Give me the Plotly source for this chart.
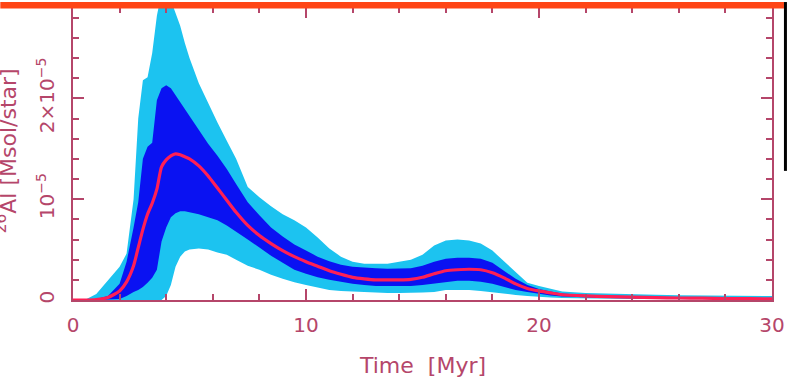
import plotly.graph_objects as go

# Time grid [Myr]
time_myr = [0, 0.5, 1.0, 1.5, 2.0, 2.3, 2.6, 2.8, 3.0, 3.2, 3.4, 3.6, 3.8, 4.0, 4.2,
            4.4, 4.6, 4.8, 5.0, 5.4, 5.8, 6.2, 6.6, 7.0, 7.5, 8.0, 8.5, 9.0, 9.5, 10,
            10.5, 11, 11.5, 12, 12.5, 13, 13.5, 14, 14.5, 15, 15.5, 16, 16.5, 17, 17.5,
            18, 18.5, 19, 19.5, 20, 20.5, 21, 22, 23, 24, 25, 26, 27, 28, 29, 30]

# 26Al mass per star, in units of 1e-5 Msol/star
median_al = [0, 0, 0.005, 0.025, 0.09, 0.18, 0.34, 0.52, 0.70, 0.85, 0.96, 1.10, 1.32, 1.39, 1.43,
             1.45, 1.44, 1.42, 1.40, 1.33, 1.23, 1.11, 0.99, 0.87, 0.74, 0.64, 0.56, 0.49, 0.43, 0.38,
             0.335, 0.29, 0.255, 0.225, 0.21, 0.20, 0.20, 0.20, 0.205, 0.225, 0.26, 0.29, 0.30, 0.305, 0.30,
             0.27, 0.22, 0.16, 0.115, 0.09, 0.07, 0.052, 0.04, 0.033, 0.028, 0.024, 0.02, 0.018, 0.015, 0.013, 0.012]

sigma1_upper = [0, 0, 0.01, 0.04, 0.16, 0.38, 0.72, 0.97, 1.40, 1.52, 1.56, 1.98, 2.10, 2.13, 2.10,
                2.03, 1.96, 1.90, 1.83, 1.68, 1.55, 1.43, 1.30, 1.15, 0.97, 0.84, 0.72, 0.63, 0.55, 0.49,
                0.43, 0.385, 0.35, 0.33, 0.32, 0.315, 0.31, 0.31, 0.315, 0.34, 0.38, 0.41, 0.42, 0.42, 0.41,
                0.37, 0.29, 0.21, 0.15, 0.11, 0.085, 0.065, 0.05, 0.042, 0.036, 0.031, 0.027, 0.024, 0.021, 0.019, 0.018]

sigma1_lower = [0, 0, 0, 0.005, 0.01, 0.04, 0.08, 0.10, 0.13, 0.17, 0.22, 0.30, 0.58, 0.72, 0.82,
                0.86, 0.88, 0.88, 0.87, 0.85, 0.82, 0.79, 0.74, 0.68, 0.60, 0.52, 0.44, 0.37, 0.30, 0.26,
                0.225, 0.20, 0.18, 0.16, 0.15, 0.14, 0.14, 0.14, 0.14, 0.15, 0.165, 0.18, 0.19, 0.19, 0.18,
                0.16, 0.13, 0.10, 0.08, 0.06, 0.045, 0.035, 0.026, 0.021, 0.017, 0.014, 0.012, 0.01, 0.009, 0.008, 0.007]

sigma2_upper = [0, 0, 0.06, 0.20, 0.33, 0.46, 1.00, 1.80, 2.18, 2.21, 2.45, 2.82, 3.05, 3.10, 2.98,
                2.86, 2.72, 2.55, 2.40, 2.15, 1.95, 1.76, 1.58, 1.40, 1.12, 1.02, 0.93, 0.85, 0.79, 0.72,
                0.62, 0.51, 0.43, 0.38, 0.36, 0.36, 0.36, 0.38, 0.40, 0.45, 0.54, 0.59, 0.60, 0.59, 0.56,
                0.49, 0.38, 0.27, 0.17, 0.14, 0.11, 0.085, 0.07, 0.062, 0.056, 0.051, 0.047, 0.044, 0.042, 0.04, 0.04]

sigma2_lower = [0, 0, 0, 0, 0, 0, 0, 0, 0, 0, 0, 0, 0, 0.04, 0.15,
                0.33, 0.43, 0.48, 0.50, 0.51, 0.50, 0.47, 0.45, 0.40, 0.34, 0.30, 0.25, 0.21, 0.175, 0.15,
                0.125, 0.10, 0.09, 0.085, 0.08, 0.07, 0.07, 0.07, 0.07, 0.075, 0.08, 0.10, 0.10, 0.10, 0.09,
                0.075, 0.06, 0.05, 0.04, 0.03, 0.025, 0.02, 0.015, 0.012, 0.01, 0.009, 0.008, 0.007, 0.006, 0.005, 0.005]

UNIT = 1e-5
x_ticks = [0, 10, 20, 30]
y_tick_vals = [0, 1, 2]
y_tick_text = ["0", "10<sup>\u22125</sup>", "2\u00d710<sup>\u22125</sup>"]

LIGHT = "#1cc3f0"
DARK = "#0a12f2"
RED = "#ff1f55"
AXIS = "#b5466a"
FONT = "DejaVu Sans"


def scaled(vals):
    return [v * UNIT for v in vals]


fig = go.Figure()

# 2-sigma band
fig.add_trace(go.Scatter(x=time_myr, y=scaled(sigma2_lower), mode="lines",
                         line=dict(width=0, color=LIGHT), showlegend=False, hoverinfo="skip"))
fig.add_trace(go.Scatter(x=time_myr, y=scaled(sigma2_upper), mode="lines", fill="tonexty",
                         fillcolor=LIGHT, line=dict(width=0, color=LIGHT),
                         showlegend=False, hoverinfo="skip"))
# 1-sigma band
fig.add_trace(go.Scatter(x=time_myr, y=scaled(sigma1_lower), mode="lines",
                         line=dict(width=0, color=DARK), showlegend=False, hoverinfo="skip"))
fig.add_trace(go.Scatter(x=time_myr, y=scaled(sigma1_upper), mode="lines", fill="tonexty",
                         fillcolor=DARK, line=dict(width=0, color=DARK),
                         showlegend=False, hoverinfo="skip"))
# median
fig.add_trace(go.Scatter(x=time_myr, y=scaled(median_al), mode="lines",
                         line=dict(width=3.2, color=RED, shape="spline", smoothing=0.6),
                         showlegend=False))

axis_common = dict(
    showline=True, linecolor=AXIS, linewidth=1.5, mirror="allticks",
    ticks="inside", ticklen=11, tickwidth=1.5, tickcolor=AXIS,
    showgrid=False, zeroline=False,
    tickfont=dict(family=FONT, size=20, color=AXIS),
)

fig.update_xaxes(range=[0, 30], tickvals=x_ticks, ticklabelstandoff=6,
                 minor=dict(ticks="inside", ticklen=6, tickwidth=1.5, tickcolor=AXIS,
                            dtick=2, tick0=0, showgrid=False),
                 **axis_common)
fig.update_yaxes(range=[0, 2.906 * UNIT], tickvals=[v * UNIT for v in y_tick_vals],
                 ticktext=y_tick_text, tickangle=-90, ticklabelstandoff=9,
                 minor=dict(ticks="inside", ticklen=6, tickwidth=1.5, tickcolor=AXIS,
                            dtick=0.2 * UNIT, tick0=0, showgrid=False),
                 **axis_common)

W, H = 790, 383
ML, MR, MT, MB = 73, 15, 5, 83
PW, PH = W - ML - MR, H - MT - MB


def px_x(p):
    return (p - ML) / PW


def px_y(p):
    return (H - MB - p) / PH


fig.add_annotation(text="Time\u00a0 [Myr]", xref="paper", yref="paper",
                   x=px_x(424), y=px_y(366), xanchor="center", yanchor="middle",
                   showarrow=False, font=dict(family=FONT, size=22, color=AXIS))
fig.add_annotation(text="<sup>26</sup>Al [Msol/star]", xref="paper", yref="paper",
                   x=px_x(6), y=px_y(150), xanchor="center", yanchor="middle", textangle=-90,
                   showarrow=False, font=dict(family=FONT, size=22, color=AXIS))

# header strip and right border of the slide
fig.add_shape(type="rect", xref="paper", yref="paper", x0=px_x(0), x1=px_x(787),
              y0=px_y(6.5), y1=px_y(0), fillcolor="#ff4515", line=dict(width=0), layer="above")
fig.add_shape(type="rect", xref="paper", yref="paper", x0=px_x(787), x1=px_x(790),
              y0=px_y(170), y1=px_y(0), fillcolor="#000000", line=dict(width=0), layer="above")

fig.update_layout(width=W, height=H, margin=dict(l=ML, r=MR, t=MT, b=MB),
                  paper_bgcolor="white", plot_bgcolor="white", showlegend=False)

fig.write_html("out.html", config={"displayModeBar": False})
